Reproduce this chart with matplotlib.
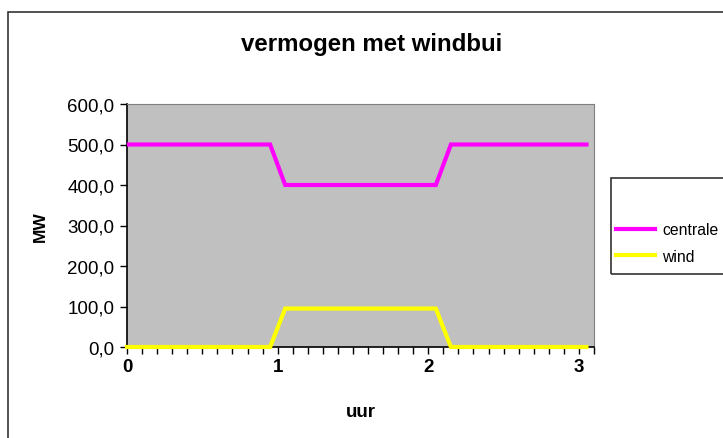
import matplotlib
matplotlib.use("Agg")
import matplotlib.pyplot as plt
from matplotlib.patches import Rectangle
from matplotlib.ticker import MultipleLocator, FuncFormatter

plt.rcParams['font.family'] = ['Liberation Sans', 'DejaVu Sans']

# data (uur vs MW)
uur = [0.0, 0.95, 1.05, 2.05, 2.15, 3.05]
centrale = [500, 500, 400, 400, 500, 500]
wind = [0, 0, 95, 95, 0, 0]
series_names = ["centrale", "wind"]

W, H = 723, 439
fig = plt.figure(figsize=(W / 100, H / 100), dpi=100)
fig.patch.set_facecolor("white")

# chart area frame
fig.patches.append(Rectangle((8 / W, -0.1), 1.2, 1 - 13 / H + 0.1, transform=fig.transFigure,
                             fill=False, edgecolor="#333333", linewidth=1.2))

ax = fig.add_axes([127 / W, 1 - 348 / H, (594 - 127) / W, (348 - 105) / H])
ax.set_facecolor("#c0c0c0")

l1, = ax.plot(uur, centrale, color="#ff00ff", lw=3, solid_joinstyle="miter", zorder=3)
l2, = ax.plot(uur, wind, color="#ffff00", lw=3, solid_joinstyle="miter", zorder=4, clip_on=False)

ax.set_xlim(0, 3.1)
ax.set_ylim(0, 600)
ax.xaxis.set_major_locator(MultipleLocator(1))
ax.xaxis.set_minor_locator(MultipleLocator(0.1))
ax.yaxis.set_major_locator(MultipleLocator(100))
ax.yaxis.set_major_formatter(FuncFormatter(lambda v, p: f"{v:.1f}".replace(".", ",")))

for s in ["top", "right"]:
    ax.spines[s].set_color("#808080")
for s in ["left", "bottom"]:
    ax.spines[s].set_color("black")
    ax.spines[s].set_linewidth(1.2)

ax.tick_params(axis="y", direction="out", length=5, width=1, labelsize=13.5, pad=4)
ax.tick_params(axis="x", which="both", direction="out", length=5, width=1, labelsize=13.5, pad=3)
for t in ax.get_xticklabels():
    t.set_fontweight("bold")

ax.set_xlabel("uur", fontsize=13.5, fontweight="bold", labelpad=20)
ax.set_ylabel("MW", fontsize=12.5, fontweight="bold", labelpad=14)

fig.text(372 / W, 1 - 45 / H, "vermogen met windbui", fontsize=17.3, fontweight="bold",
         ha="center", va="center")

# legend box
fig.patches.append(Rectangle((611 / W, 1 - 275 / H), 0.3, (275 - 179) / H, transform=fig.transFigure,
                             fill=False, edgecolor="#333333", linewidth=1.2))
fig.legend([l1, l2], series_names, loc="center left", bbox_to_anchor=(616 / W, 1 - 244 / H),
           frameon=False, fontsize=11.3, handlelength=2.5, handletextpad=0.45,
           labelspacing=0.75, borderpad=0, borderaxespad=0)

fig.savefig("out.png", dpi=100)
